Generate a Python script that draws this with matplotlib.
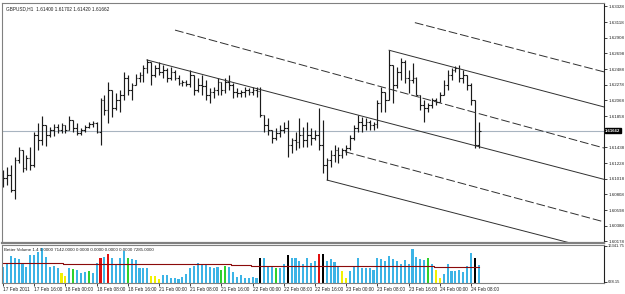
import matplotlib
matplotlib.use("Agg")
import matplotlib.pyplot as plt
import matplotlib.transforms as mtransforms
import numpy as np

plt.rcParams['font.family'] = ['Liberation Sans', 'DejaVu Sans']

# ---------------- data (GBPUSD H1) ----------------
high = [1.6114,1.6118,1.6120,1.6131,1.6144,1.6140,1.6134,1.6144,1.6164,1.6177,
        1.6186,1.6174,1.6171,1.6175,1.6175,1.6177,1.6174,1.6186,1.6181,1.6177,
        1.6170,1.6174,1.6178,1.6179,1.6178,1.6210,1.6214,1.6231,1.6221,1.6217,
        1.6221,1.6245,1.6241,1.6230,1.6242,1.6245,1.6254,1.6262,1.6258,1.6254,
        1.6258,1.6254,1.6250,1.6252,1.6248,1.6241,1.6234,1.6234,1.6248,1.6241,
        1.6237,1.6241,1.6234,1.6223,1.6225,1.6237,1.6231,1.6237,1.6241,1.6230,
        1.6223,1.6221,1.6225,1.6223,1.6225,1.6225,1.6225,1.6187,1.6183,1.6167,
        1.6170,1.6174,1.6178,1.6181,1.6156,1.6164,1.6183,1.6171,1.6178,1.6170,
        1.6167,1.6197,1.6181,1.6130,1.6140,1.6147,1.6144,1.6143,1.6147,1.6160,
        1.6174,1.6187,1.6185,1.6183,1.6181,1.6178,1.6207,1.6225,1.6218,1.6274,
        1.6254,1.6252,1.6264,1.6261,1.6248,1.6257,1.6238,1.6214,1.6207,1.6203,
        1.6210,1.6210,1.6218,1.6234,1.6248,1.6250,1.6253,1.6254,1.6248,1.6241,
        1.6230,1.6207,1.6178]
low = [1.6091,1.6093,1.6084,1.6075,1.6123,1.6111,1.6114,1.6114,1.6118,1.6140,
       1.6147,1.6146,1.6158,1.6159,1.6163,1.6163,1.6163,1.6167,1.6164,1.6160,
       1.6160,1.6164,1.6170,1.6171,1.6163,1.6147,1.6187,1.6177,1.6185,1.6194,
       1.6191,1.6207,1.6214,1.6207,1.6227,1.6231,1.6231,1.6244,1.6227,1.6238,
       1.6241,1.6237,1.6231,1.6234,1.6234,1.6227,1.6226,1.6226,1.6225,1.6214,
       1.6218,1.6214,1.6207,1.6203,1.6210,1.6214,1.6214,1.6217,1.6221,1.6210,
       1.6211,1.6211,1.6211,1.6214,1.6214,1.6211,1.6185,1.6164,1.6160,1.6150,
       1.6154,1.6158,1.6163,1.6131,1.6136,1.6140,1.6143,1.6144,1.6144,1.6147,
       1.6154,1.6140,1.6110,1.6100,1.6118,1.6124,1.6123,1.6130,1.6134,1.6140,
       1.6154,1.6164,1.6164,1.6167,1.6167,1.6167,1.6170,1.6191,1.6191,1.6207,
       1.6203,1.6223,1.6234,1.6230,1.6217,1.6230,1.6214,1.6194,1.6178,1.6191,
       1.6197,1.6201,1.6204,1.6214,1.6221,1.6234,1.6245,1.6231,1.6230,1.6221,
       1.6201,1.6143,1.6143]
open_ = [1.6100,1.6103,1.6107,1.6087,1.6127,1.6140,1.6116,1.6130,1.6120,1.6160,
         1.6154,1.6174,1.6160,1.6167,1.6171,1.6167,1.6174,1.6167,1.6181,1.6170,
         1.6163,1.6167,1.6171,1.6175,1.6177,1.6164,1.6207,1.6194,1.6221,1.6197,
         1.6207,1.6214,1.6237,1.6221,1.6227,1.6237,1.6241,1.6250,1.6258,1.6241,
         1.6250,1.6245,1.6248,1.6237,1.6245,1.6237,1.6230,1.6231,1.6229,1.6241,
         1.6221,1.6227,1.6226,1.6214,1.6218,1.6221,1.6231,1.6221,1.6231,1.6227,
         1.6218,1.6217,1.6218,1.6221,1.6218,1.6221,1.6220,1.6187,1.6174,1.6167,
         1.6156,1.6163,1.6167,1.6170,1.6147,1.6154,1.6151,1.6160,1.6154,1.6160,
         1.6156,1.6160,1.6147,1.6120,1.6127,1.6134,1.6140,1.6134,1.6140,1.6143,
         1.6156,1.6170,1.6178,1.6174,1.6178,1.6174,1.6175,1.6203,1.6218,1.6207,
         1.6254,1.6227,1.6245,1.6258,1.6237,1.6234,1.6237,1.6214,1.6201,1.6197,
         1.6201,1.6207,1.6204,1.6214,1.6227,1.6241,1.6248,1.6250,1.6237,1.6241,
         1.6227,1.6207,1.6147]
close = [1.6103,1.6107,1.6087,1.6127,1.6140,1.6116,1.6130,1.6120,1.6160,1.6154,
         1.6174,1.6160,1.6167,1.6171,1.6167,1.6174,1.6167,1.6181,1.6170,1.6163,
         1.6167,1.6171,1.6175,1.6177,1.6164,1.6207,1.6194,1.6221,1.6197,1.6207,
         1.6214,1.6237,1.6221,1.6227,1.6237,1.6241,1.6250,1.6258,1.6241,1.6250,
         1.6245,1.6248,1.6237,1.6245,1.6237,1.6230,1.6231,1.6229,1.6241,1.6221,
         1.6227,1.6226,1.6214,1.6218,1.6221,1.6231,1.6221,1.6231,1.6227,1.6218,
         1.6217,1.6218,1.6221,1.6218,1.6221,1.6220,1.6187,1.6174,1.6167,1.6156,
         1.6163,1.6167,1.6170,1.6147,1.6154,1.6151,1.6160,1.6154,1.6160,1.6156,
         1.6160,1.6147,1.6120,1.6127,1.6134,1.6140,1.6134,1.6140,1.6143,1.6156,
         1.6170,1.6178,1.6174,1.6178,1.6174,1.6175,1.6203,1.6218,1.6207,1.6254,
         1.6227,1.6245,1.6258,1.6237,1.6234,1.6237,1.6214,1.6201,1.6197,1.6201,
         1.6207,1.6204,1.6214,1.6227,1.6241,1.6248,1.6250,1.6237,1.6241,1.6227,
         1.6207,1.6147,1.61662]

volume = [6880,8600,12040,11180,10320,8600,6880,12470,12470,13760,
          15480,11610,6880,7310,6450,4300,3010,6450,6020,5590,
          4300,4730,5160,4300,8600,10750,11610,12900,10750,8170,
          10750,14190,11180,10320,9890,6450,6450,6450,3010,3010,
          1720,3440,3440,2150,2150,1720,2580,3870,6450,7310,
          8600,8170,8170,6880,6450,6880,5590,7310,6880,4730,
          2580,3440,2150,2150,2580,2150,11180,11180,7310,7310,
          6450,6450,8170,12470,11180,10750,9460,8170,10750,8600,
          9460,12900,12900,9460,10320,9030,7310,5160,2150,5160,
          7310,10750,6450,6450,6450,5590,11180,10320,9460,12040,
          10320,9460,8170,9890,8170,15050,11610,10320,9890,10750,
          8170,5590,2150,3870,8170,5160,5160,5590,4730,7310,
          13330,11180,7740]
vol_kind = list("bbbbbbbbbbbbbbb" "yy" "b" "g" "bbb" "g" "bb" "r" "b" "r"
                "bbbb" "g" "bbbbb" "yyy" "bbbbbbbbbbbbbbb" "gg" "bbbbbbbb"
                "k" "bbb" "g" "bb" "k" "bbbbbbb" "r" "k" "bbbb" "yy"
                "bbbbbbbbbbbbbbbbbbbb" "g" "b" "yy" "bbbbbbbb" "k" "b")
ma_levels = [8600, 8170, 8400, 7950, 7500, 7000]
ma_counts = [16, 35, 8, 5, 47, 12]

# trend lines: (start bar, start price, end bar, end price, style)
trend_lines = [
    (36.9, 1.6261, 154.1, 1.6101, 'solid'),
    (83.1, 1.6100, 154.1, 1.6004, 'solid'),
    (44.1, 1.6301, 154.1, 1.6143, 'dashed'),
    (87.7, 1.6138, 154.1, 1.6044, 'dashed'),
    (99.0, 1.6274, 154.1, 1.6198, 'solid'),
    (105.6, 1.6311, 154.1, 1.6245, 'dashed'),
]
current_price = 1.61662
price_ticks = [1.63328, 1.63118, 1.62908, 1.62698, 1.62488, 1.62278, 1.62068,
               1.61858, 1.61438, 1.61228, 1.61018, 1.60808, 1.60598, 1.60388, 1.60178]
time_labels = ["17 Feb 2011", "17 Feb 16:00", "18 Feb 00:00", "18 Feb 08:00",
               "18 Feb 16:00", "21 Feb 00:00", "21 Feb 08:00", "21 Feb 16:00",
               "22 Feb 00:00", "22 Feb 08:00", "22 Feb 16:00", "23 Feb 00:00",
               "23 Feb 08:00", "23 Feb 16:00", "24 Feb 00:00", "24 Feb 08:00"]
time_label_bars = [0, 8, 16, 24, 32, 40, 48, 56, 64, 72, 80, 88, 96, 104, 112, 120]
title_text = "GBPUSD,H1  1.61400 1.61702 1.61420 1.61662"
vol_text = "Better Volume 1.4 0.0000 7142.0000 0.0000 0.0000 0.0000 0.0000 7285.0000"
vol_max = 16341.75
vol_min_label = 638.15

# ---------------- figure ----------------
W, H = 625, 294
fig = plt.figure(figsize=(W / 100, H / 100), dpi=100)
fig.patch.set_facecolor('white')
ax = fig.add_axes([2 / W, 1 - 243 / H, 602 / W, 240 / H])
axv = fig.add_axes([2 / W, 1 - 283 / H, 602 / W, 38 / H])

n = len(high)
x = np.arange(n)
xlim = (-0.26, 154.1)

# price bars
bar_col = '#1a1a1a'
ax.vlines(x, low, high, color=bar_col, lw=0.85)
ax.hlines(open_, x - 0.45, x, color=bar_col, lw=0.8)
ax.hlines(close, x, x + 0.45, color=bar_col, lw=0.8)

# current price line
ax.axhline(current_price, color='#a8b4c0', lw=0.8, zorder=0)

# trend lines
for x0, y0, x1, y1, st in trend_lines:
    if st == 'dashed':
        ax.plot([x0, x1], [y0, y1], color='#303030', lw=0.7, dashes=(9, 3))
    else:
        ax.plot([x0, x1], [y0, y1], color='#303030', lw=0.7)

ax.set_xlim(*xlim)
ax.set_ylim(1.60157, 1.63373)
ax.set_xticks([])
ax.yaxis.tick_right()
ax.set_yticks(price_ticks)
ax.set_yticklabels([f"{v:.5f}" for v in price_ticks])
ax.tick_params(axis='y', length=2, width=0.6, pad=1.2, labelsize=3.2, colors='#202020')
for s in ['left', 'top']:
    ax.spines[s].set_color('#808080')
    ax.spines[s].set_linewidth(0.8)
ax.spines['bottom'].set_color('#808080')
ax.spines['bottom'].set_linewidth(1.6)
ax.spines['right'].set_color('#202020')
ax.spines['right'].set_linewidth(0.8)

ax.text(0.006, 0.985, title_text, transform=ax.transAxes, ha='left', va='top',
        fontsize=3.4, color='#202020')

trans = mtransforms.blended_transform_factory(ax.transAxes, ax.transData)
ax.text(1.002, current_price, f"{current_price:.5f}", transform=trans, ha='left',
        va='center', fontsize=3.1, color='white', fontweight='bold',
        bbox=dict(boxstyle='square,pad=0.1', fc='black', ec='black'))

# volume panel
kind_col = {'b': '#3cb4e6', 'y': '#f2f200', 'g': '#2ed12e', 'r': '#e01010', 'k': '#000000'}
axv.bar(x, volume, width=0.55, color=[kind_col[k] for k in vol_kind], linewidth=0)
ma = np.repeat(ma_levels, ma_counts)
axv.step(x, ma, where='mid', color='#8b0a0a', lw=0.8)
axv.set_xlim(*xlim)
axv.set_ylim(0, vol_max * 1.02)
axv.yaxis.tick_right()
axv.set_yticks([vol_min_label, vol_max])
axv.set_yticklabels([f"{vol_min_label:.2f}", f"{vol_max:.2f}"])
axv.tick_params(axis='y', length=2, width=0.6, pad=1.0, labelsize=3.0, colors='#202020')
axv.set_xticks(time_label_bars)
axv.set_xticklabels(time_labels, ha='left')
axv.tick_params(axis='x', length=2, width=0.6, pad=1.0, labelsize=3.4, colors='#202020')
for s in ['left', 'top', 'bottom']:
    axv.spines[s].set_color('#808080')
    axv.spines[s].set_linewidth(0.8)
axv.spines['right'].set_color('#202020')
axv.spines['right'].set_linewidth(0.8)
axv.text(0.004, 0.93, vol_text, transform=axv.transAxes, ha='left', va='top',
         fontsize=3.2, color='#202020')

fig.savefig("out.png", dpi=100, facecolor='white')
